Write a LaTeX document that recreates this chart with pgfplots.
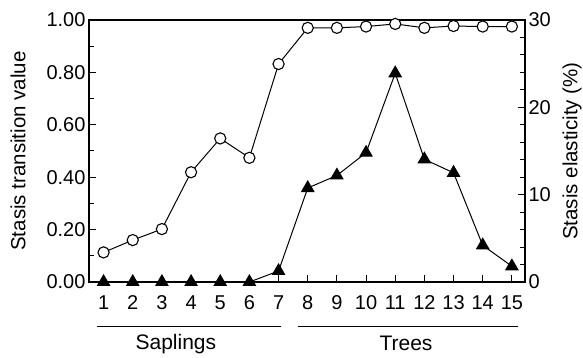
\documentclass[border=0pt]{standalone}
\usepackage{fontspec}
\setmainfont{Liberation Sans}
\usepackage{pgfplots}
\pgfplotsset{compat=1.18}
\begin{document}
\begin{tikzpicture}
\useasboundingbox (-89pt,-76pt) rectangle (494pt,282pt);
\pgfplotsset{
  common/.style={
    at={(0pt,0pt)}, anchor=south west,
    scale only axis, width=436pt, height=262pt,
    xmin=0.5, xmax=15.45,
    clip=false,
    tick align=inside,
    major tick length=7pt, minor tick length=5pt,
    every tick/.style={black, line width=1pt},
    axis line style={line width=1.1pt},
    /pgf/number format/assume math mode=true,
    font=\fontsize{20}{22}\selectfont,
  }
}
\begin{axis}[common,
  ymin=0, ymax=1,
  tick pos=left,
  xtick={1,...,15},
  ytick={0,0.2,0.4,0.6,0.8,1.0},
  minor y tick num=1,
  yticklabel style={/pgf/number format/.cd, fixed, fixed zerofill, precision=2},
  xticklabel style={anchor=base, yshift=-28pt},
  ylabel={Stasis transition value},
  every axis y label/.style={at={(axis description cs:-0.163,0.5)}, rotate=90, anchor=center, font=\fontsize{20.5}{22}\selectfont},
]
\addplot[black, line width=1pt, mark=*, mark size=5.6pt, mark options={fill=white, draw=black, line width=1.1pt}] coordinates {
(1,0.113) (2,0.160) (3,0.202) (4,0.419) (5,0.548) (6,0.474) (7,0.832)
(8,0.970) (9,0.970) (10,0.975) (11,0.985) (12,0.970) (13,0.977) (14,0.975) (15,0.975)};
\draw[line width=1pt] ([yshift=-45pt]axis cs:0.76,0) -- ([yshift=-45pt]axis cs:7.08,0);
\draw[line width=1pt] ([yshift=-45pt]axis cs:7.67,0) -- ([yshift=-45pt]axis cs:15.21,0);
\node[anchor=base, inner sep=0pt, font=\fontsize{21}{22}\selectfont] at ([yshift=-68pt]axis cs:3.48,0) {Saplings};
\node[anchor=base, inner sep=0pt, font=\fontsize{21}{22}\selectfont] at ([yshift=-69pt]axis cs:11.37,0) {Trees};
\end{axis}
\begin{axis}[common,
  ymin=0, ymax=30,
  axis x line=none,
  axis y line*=right,
  ytick={0,10,20,30},
  minor y tick num=4,
  ylabel={Stasis elasticity (\%)},
  every axis y label/.style={at={(axis description cs:1.108,0.5)}, rotate=90, anchor=center, font=\fontsize{20.5}{22}\selectfont},
]
\addplot[black, line width=1pt, mark=triangle*, mark size=7pt, mark options={fill=black, draw=black}] coordinates {
(1,0) (2,0) (3,0) (4,0) (5,0) (6,0) (7,1.26)
(8,10.76) (9,12.2) (10,14.8) (11,23.9) (12,14.05) (13,12.5) (14,4.2) (15,1.8)};
\end{axis}
\end{tikzpicture}
\end{document}
